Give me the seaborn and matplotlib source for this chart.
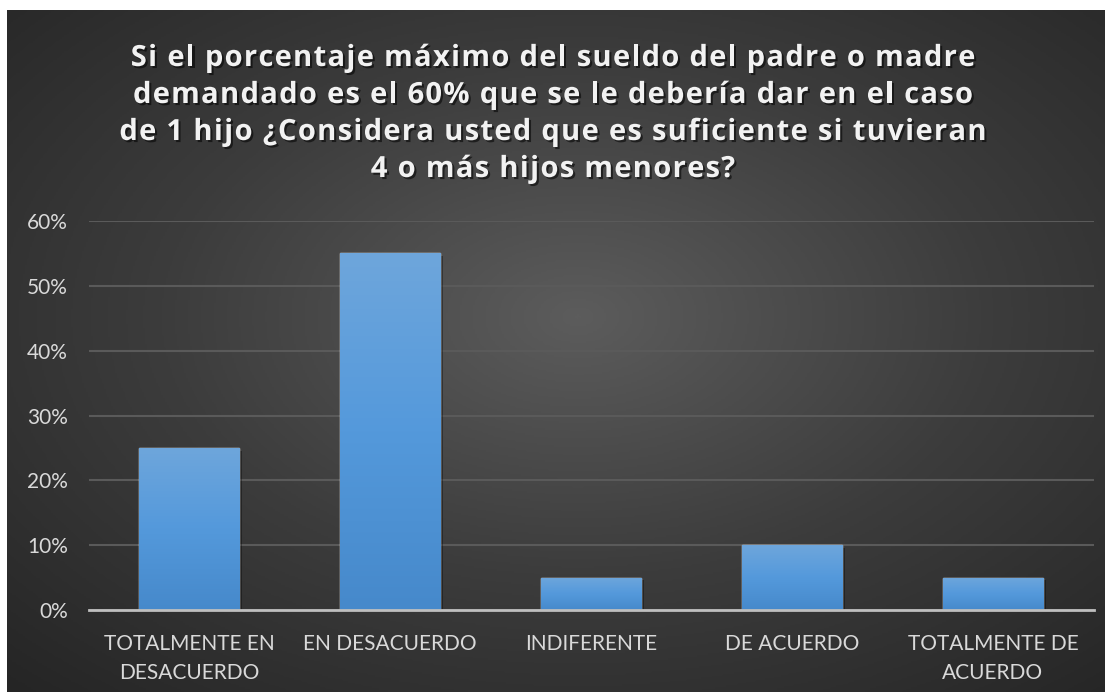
import matplotlib
matplotlib.use("Agg")
import matplotlib.pyplot as plt
import matplotlib.patheffects as pe
from matplotlib.colors import LinearSegmentedColormap
from matplotlib.font_manager import FontProperties
import numpy as np
import pandas as pd
import seaborn as sns

# data
categories = ["TOTALMENTE EN\nDESACUERDO", "EN DESACUERDO", "INDIFERENTE",
              "DE ACUERDO", "TOTALMENTE DE\nACUERDO"]
percentages = [0.25, 0.55, 0.05, 0.10, 0.05]
yticks = [0.0, 0.1, 0.2, 0.3, 0.4, 0.5, 0.6]
ytick_labels = ["0%", "10%", "20%", "30%", "40%", "50%", "60%"]
title_lines = ["Si el porcentaje máximo del sueldo del padre o madre",
               "demandado es el 60% que se le debería dar en el caso",
               "de 1 hijo ¿Considera usted que es suficiente si tuvieran",
               "4 o más hijos menores?"]

sns.set_theme(style="dark")
plt.rcParams["font.family"] = ["Lato", "DejaVu Sans"]

W, H = 1105, 692
fig = plt.figure(figsize=(W / 100, H / 100), dpi=100, facecolor="white")

# chart background with a radial gradient
bg = fig.add_axes([7 / W, 0, (W - 7) / W, (H - 10) / H])
bg.set_axis_off()
yy, xx = np.mgrid[0:1:400j, 0:1:600j]
r = np.sqrt(((xx - 0.52) / 0.75) ** 2 + ((yy - 0.55) / 0.75) ** 2)
r = np.clip(r / r.max(), 0, 1)
bg_cmap = LinearSegmentedColormap.from_list("bg", ["#5c5c5c", "#3c3c3c", "#252525"])
bg.imshow(r, cmap=bg_cmap, aspect="auto", extent=[0, 1, 0, 1], origin="lower")
bg.set_xlim(0, 1)
bg.set_ylim(0, 1)

# plot area
left, right = 88.5, 1093.5
bottom, top = 610, 221
ax = fig.add_axes([left / W, (H - bottom) / H, (right - left) / W, (bottom - top) / H])
ax.patch.set_alpha(0)

df = pd.DataFrame({"categoria": categories, "porcentaje": percentages})
sns.barplot(data=df, x="categoria", y="porcentaje", color="#5b9bd5",
            width=0.5, ax=ax, zorder=3, saturation=1)

# vertical gradient on the bars
bar_cmap = LinearSegmentedColormap.from_list("bar", ["#4689cb", "#5499db", "#6ea6dc"])
grad = np.linspace(0, 1, 256).reshape(-1, 1)
for patch in ax.patches:
    x0, y0 = patch.get_x(), patch.get_y()
    w, h = patch.get_width(), patch.get_height()
    patch.set_path_effects([pe.SimplePatchShadow(offset=(2, -2), alpha=0.35, shadow_rgbFace="black"),
                            pe.Normal()])
    im = ax.imshow(grad, cmap=bar_cmap, aspect="auto", origin="lower",
                   extent=[x0, x0 + w, y0, y0 + h], zorder=4)
    im.set_clip_path(patch)
ax.set_xlim(-0.5, len(categories) - 0.5)
ax.set_ylim(0, 0.6)

ax.set_yticks(yticks)
ax.set_yticklabels(ytick_labels)
ax.yaxis.grid(True, color="#5a5a5a", linewidth=1.5, zorder=0)
ax.xaxis.grid(False)
ax.tick_params(axis="y", length=0, pad=15, labelsize=15, labelcolor="#d9d9d9")
ax.tick_params(axis="x", length=0, pad=17, labelsize=15, labelcolor="#d9d9d9")
for lbl in ax.get_xticklabels():
    lbl.set_linespacing(1.6)
ax.set_xlabel("")
ax.set_ylabel("")
for s in ["top", "right", "left"]:
    ax.spines[s].set_visible(False)
ax.spines["bottom"].set_color("#bfbfbf")
ax.spines["bottom"].set_linewidth(2)
ax.spines["bottom"].set_zorder(5)

# title with letter spacing: place characters one by one
title_font = FontProperties(family=["Open Sans", "DejaVu Sans"], weight="bold", size=21)
renderer = fig.canvas.get_renderer()
spacing = 1.3
center_x = 553
line_ys = [55, 92, 129, 166]
shadow = [pe.withSimplePatchShadow(offset=(1.5, -1.5), alpha=0.55, shadow_rgbFace="black")]
for line, ly in zip(title_lines, line_ys):
    widths = [renderer.get_text_width_height_descent(c, title_font, ismath=False)[0] for c in line]
    total = sum(widths) + spacing * (len(line) - 1)
    x = center_x - total / 2
    for c, cw in zip(line, widths):
        if c != " ":
            fig.text(x / W, (H - ly) / H, c, ha="left", va="center_baseline",
                     fontproperties=title_font, color="#f2f2f2", path_effects=shadow)
        x += cw + spacing

fig.savefig("out.png", dpi=100, facecolor="white")
plt.close(fig)
